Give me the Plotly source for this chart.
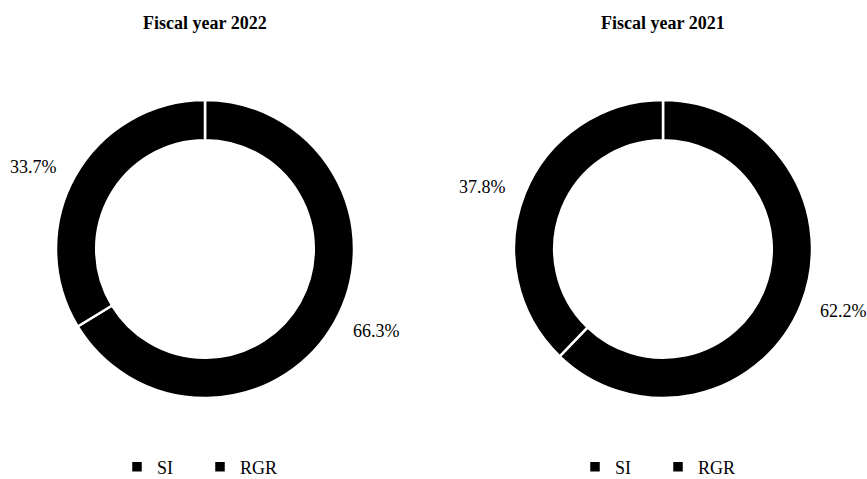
import math
import plotly.graph_objects as go

labels = ["SI", "RGR"]
values_2022 = [33.7, 66.3]
values_2021 = [37.8, 62.2]
titles = ["Fiscal year 2022", "Fiscal year 2021"]

SERIF = "Liberation Serif"
W, H = 867, 479
CY, R = 249, 149          # pie centre row and outer radius in px
CENTRES = [205, 663]      # pie centre columns in px
LABEL_GAP = 18            # distance of value labels outside the ring, px


def px_x(x):
    return x / W


def px_y(y):
    return 1 - y / H


fig = go.Figure()
annotations = []
for i, (vals, title) in enumerate(zip([values_2022, values_2021], titles)):
    cx = CENTRES[i]
    labs = labels if i == 0 else [l + "\u200b" for l in labels]
    # plotly draws the first slice clockwise from 12 o'clock; RGR sits there,
    # so feed the slices in reverse and reverse the legend back to SI, RGR.
    v_draw = vals[::-1]
    l_draw = labs[::-1]
    fig.add_trace(go.Pie(
        values=v_draw, labels=l_draw, sort=False, direction="clockwise", rotation=0,
        hole=0.73, automargin=False, textinfo="none", textposition="none",
        marker=dict(colors=["#000000", "#000000"], line=dict(color="#ffffff", width=2.5)),
        domain=dict(x=[px_x(cx - R), px_x(cx + R)], y=[px_y(CY + R), px_y(CY - R)]),
        legend="legend" if i == 0 else "legend2", showlegend=True,
        hovertemplate="%{label}: %{value:.1f}%<extra></extra>",
    ))
    # value labels just outside each slice, at the slice's mid angle
    total = sum(v_draw)
    cum = 0.0
    for v in v_draw:
        mid = (cum + v / 2) / total * 2 * math.pi
        cum += v
        s, c = math.sin(mid), math.cos(mid)
        ax = cx + (R + LABEL_GAP) * s
        ay = CY - (R + LABEL_GAP) * c
        annotations.append(dict(
            text="%.1f%%" % v, x=px_x(ax), y=px_y(ay), xref="paper", yref="paper",
            xanchor="left" if s > 0 else "right", yanchor="middle", showarrow=False,
            font=dict(family=SERIF, size=18, color="#000000")))
    annotations.append(dict(
        text="<b>%s</b>" % title, x=px_x(cx), y=px_y(23), xref="paper", yref="paper",
        xanchor="center", yanchor="middle", showarrow=False,
        font=dict(family=SERIF, size=18, color="#000000")))

legend_common = dict(orientation="h", xanchor="left", yanchor="middle", y=px_y(467),
                     traceorder="reversed", entrywidth=38, entrywidthmode="pixels",
                     font=dict(family=SERIF, size=18, color="#000000"),
                     bgcolor="rgba(0,0,0,0)")
fig.update_layout(
    width=W, height=H,
    margin=dict(l=0, r=0, t=0, b=0, pad=0, autoexpand=False),
    font=dict(family=SERIF, color="#000000"),
    paper_bgcolor="#ffffff", plot_bgcolor="#ffffff",
    legend=dict(x=px_x(CENTRES[0] - 88), **legend_common),
    legend2=dict(x=px_x(CENTRES[1] - 88), **legend_common),
    annotations=annotations,
)
fig.write_html("out.html", config={"displayModeBar": False},
               post_script="document.body.style.margin='0px';")
